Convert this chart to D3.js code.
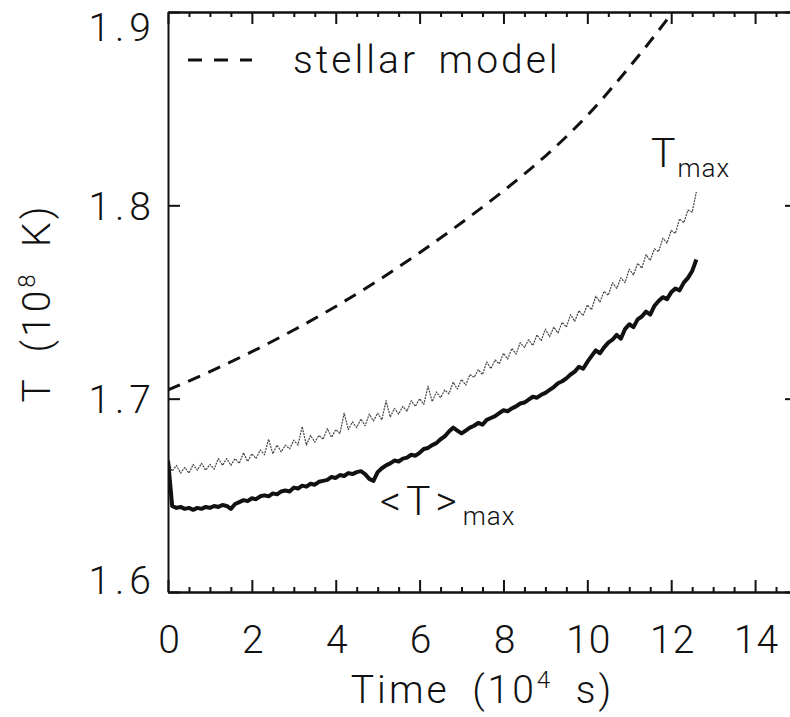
<!DOCTYPE html>
<html>
<head>
<meta charset="utf-8">
<script src="https://cdn.jsdelivr.net/npm/d3@7"></script>
<style>
  body { margin: 0; background: #fff; }
  svg { display: block; }
  text { font-family: Roboto, "Open Sans", "DejaVu Sans", sans-serif; font-weight: 300; fill: #111; }
</style>
</head>
<body>
<div id="chart"></div>
<script>
// time axis major / minor ticks (10^4 s) and temperature ticks (10^8 K)
const xMajorTicks = [0, 2, 4, 6, 8, 10, 12, 14]
const xMinorTicks = [0.5, 1, 1.5, 2.5, 3, 3.5, 4.5, 5, 5.5, 6.5, 7, 7.5, 8.5, 9, 9.5, 10.5, 11, 11.5, 12.5, 13, 13.5, 14.5]
const yTicks = [1.6, 1.7, 1.8, 1.9]

// stellar model (dashed)
const modelTime = [0, 1, 2, 3, 4, 5, 6, 7, 8, 9, 10, 11, 12, 12.4]
const modelT = [1.7045, 1.714, 1.7243, 1.7355, 1.7477, 1.761, 1.7755, 1.791, 1.8075, 1.8255, 1.8465, 1.8715, 1.899, 1.911]

// sampled every 0.1 (10^4 s), from t = 0 to 12.6
const sampleStep = 0.1
const tMax = [
  1.668, 1.6625, 1.6655, 1.6615, 1.6645, 1.6615, 1.666, 1.663, 1.6665, 1.663,
  1.666, 1.6635, 1.669, 1.6655, 1.669, 1.6655, 1.669, 1.6665, 1.672, 1.6675,
  1.6715, 1.669, 1.6735, 1.671, 1.679, 1.6715, 1.676, 1.6725, 1.676, 1.674,
  1.6785, 1.676, 1.6855, 1.676, 1.681, 1.6775, 1.681, 1.679, 1.6845, 1.680,
  1.684, 1.682, 1.6925, 1.684, 1.688, 1.685, 1.6895, 1.686, 1.692, 1.6885,
  1.6925, 1.689, 1.699, 1.6905, 1.695, 1.692, 1.696, 1.6935, 1.699, 1.696,
  1.700, 1.697, 1.7065, 1.6985, 1.7035, 1.7005, 1.7045, 1.7025, 1.7085, 1.705,
  1.710, 1.707, 1.7125, 1.711, 1.715, 1.7125, 1.719, 1.7155, 1.720, 1.718,
  1.7235, 1.7205, 1.726, 1.723, 1.729, 1.7265, 1.7305, 1.7275, 1.733, 1.730,
  1.736, 1.732, 1.737, 1.734, 1.7395, 1.737, 1.7435, 1.740, 1.7455, 1.743,
  1.7485, 1.746, 1.753, 1.750, 1.7555, 1.7535, 1.760, 1.757, 1.7625, 1.760,
  1.767, 1.764, 1.770, 1.7675, 1.7745, 1.7715, 1.7775, 1.776, 1.783, 1.7805,
  1.787, 1.7855, 1.793, 1.791, 1.7975, 1.7965, 1.807
]
const tMean = [
  1.668, 1.6445, 1.6435, 1.644, 1.643, 1.6435, 1.6425, 1.6435, 1.643, 1.644,
  1.6435, 1.6445, 1.644, 1.645, 1.6445, 1.643, 1.6455, 1.6465, 1.6475, 1.647,
  1.6485, 1.648, 1.6495, 1.650, 1.6495, 1.651, 1.6505, 1.652, 1.6525, 1.652,
  1.654, 1.6535, 1.655, 1.6545, 1.656, 1.6555, 1.657, 1.6575, 1.658, 1.6595,
  1.659, 1.6605, 1.660, 1.6615, 1.661, 1.662, 1.6625, 1.661, 1.6585, 1.6575,
  1.662, 1.664, 1.6655, 1.6665, 1.668, 1.6675, 1.669, 1.6695, 1.671, 1.6705,
  1.672, 1.674, 1.6745, 1.676, 1.677, 1.679, 1.6805, 1.683, 1.685, 1.6835,
  1.682, 1.6835, 1.685, 1.686, 1.6875, 1.6865, 1.689, 1.690, 1.691, 1.6925,
  1.694, 1.6935, 1.695, 1.696, 1.6975, 1.698, 1.6995, 1.701, 1.7005, 1.702,
  1.703, 1.7045, 1.706, 1.708, 1.709, 1.7105, 1.7125, 1.714, 1.7165, 1.7155,
  1.719, 1.722, 1.725, 1.7235, 1.7265, 1.729, 1.7305, 1.733, 1.731, 1.736,
  1.7385, 1.737, 1.741, 1.7425, 1.745, 1.7435, 1.748, 1.7505, 1.7525, 1.7515,
  1.755, 1.757, 1.756, 1.760, 1.7625, 1.766, 1.772
]

const width = 790
const height = 717
const margin = {top: 12, right: -7, bottom: 125, left: 168}
const fontSize = 39

const svg = d3.select("#chart").append("svg")
  .attr("width", width)
  .attr("height", height)

const x = d3.scaleLinear()
  .domain([0, 15])
  .range([margin.left, width - margin.right])

const y = d3.scaleLinear()
  .domain([1.6, 1.9])
  .range([height - margin.bottom, margin.top])

svg.append("defs").append("clipPath").attr("id", "plot-clip")
  .append("rect")
  .attr("x", x(0)).attr("y", y(1.9))
  .attr("width", x(15) - x(0)).attr("height", y(1.6) - y(1.9))

const styleAxis = g => g
  .call(g => g.select(".domain").attr("stroke", "#111").attr("stroke-width", 2))
  .call(g => g.selectAll(".tick line").attr("stroke", "#111").attr("stroke-width", 2))
  .call(g => g.selectAll("text").attr("font-family", null).attr("font-size", fontSize).attr("fill", "#111"))
  .attr("font-family", null)

// bottom axis
svg.append("g")
  .attr("transform", `translate(0, ${y(1.6)})`)
  .call(d3.axisBottom(x).tickValues(xMinorTicks).tickSize(-5).tickSizeOuter(0).tickFormat(""))
  .call(styleAxis)
svg.append("g")
  .attr("transform", `translate(0, ${y(1.6)})`)
  .call(d3.axisBottom(x).tickValues(xMajorTicks).tickSize(-12).tickSizeOuter(0).tickPadding(33).tickFormat(d3.format("d")))
  .call(styleAxis)
  .call(g => g.selectAll(".tick text").attr("letter-spacing", 1).attr("dx", 1))

// top axis
svg.append("g")
  .attr("transform", `translate(0, ${y(1.9)})`)
  .call(d3.axisTop(x).tickValues(xMinorTicks).tickSize(-5).tickSizeOuter(0).tickFormat(""))
  .call(styleAxis)
svg.append("g")
  .attr("transform", `translate(0, ${y(1.9)})`)
  .call(d3.axisTop(x).tickValues(xMajorTicks).tickSize(-12).tickSizeOuter(0).tickFormat(""))
  .call(styleAxis)

// left axis
svg.append("g")
  .attr("transform", `translate(${x(0)}, 0)`)
  .call(d3.axisLeft(y).tickValues(yTicks).tickSize(-12).tickSizeOuter(0).tickPadding(12).tickFormat(d3.format(".1f")))
  .call(styleAxis)
  .call(g => g.selectAll(".tick text")
    .attr("letter-spacing", 5)
    .attr("dy", d => d === 1.6 ? "0.05em" : d === 1.9 ? "0.72em" : "0.36em"))

// right axis (mostly off the page)
svg.append("g")
  .attr("transform", `translate(${x(15)}, 0)`)
  .call(d3.axisRight(y).tickValues(yTicks).tickSize(-12).tickSizeOuter(0).tickFormat(""))
  .call(styleAxis)

// axis titles
svg.append("text")
  .attr("x", (x(0) + x(15)) / 2)
  .attr("y", 703)
  .attr("text-anchor", "middle")
  .attr("font-size", fontSize)
  .attr("letter-spacing", 3)
  .attr("word-spacing", 10)
  .call(t => t.append("tspan").text("Time (10"))
  .call(t => t.append("tspan").attr("font-size", 24).attr("dy", -15).text("4"))
  .call(t => t.append("tspan").attr("dy", 15).text(" s)"))

svg.append("text")
  .attr("transform", `translate(50, 303) rotate(-90)`)
  .attr("text-anchor", "middle")
  .attr("font-size", fontSize)
  .attr("letter-spacing", 3)
  .attr("word-spacing", 12)
  .call(t => t.append("tspan").text("T (10"))
  .call(t => t.append("tspan").attr("font-size", 24).attr("dy", -15).text("8"))
  .call(t => t.append("tspan").attr("dy", 15).text(" K)"))

// curves
const plot = svg.append("g").attr("clip-path", "url(#plot-clip)")

const line = d3.line()
  .x(d => x(d.t))
  .y(d => y(d.v))

const modelData = modelTime.map((t, i) => ({t, v: modelT[i]}))
const tMaxData = tMax.map((v, i) => ({t: i * sampleStep, v}))
const tMeanData = tMean.map((v, i) => ({t: i * sampleStep, v}))

plot.append("path")
  .datum(modelData)
  .attr("fill", "none")
  .attr("stroke", "#111")
  .attr("stroke-width", 3)
  .attr("stroke-dasharray", "13,9")
  .attr("d", line.curve(d3.curveMonotoneX))

plot.append("path")
  .datum(tMaxData)
  .attr("fill", "none")
  .attr("stroke", "#444")
  .attr("stroke-width", 1.2)
  .attr("stroke-dasharray", "2,1")
  .attr("stroke-linejoin", "round")
  .attr("d", line.curve(d3.curveLinear))

plot.append("path")
  .datum(tMeanData)
  .attr("fill", "none")
  .attr("stroke", "#111")
  .attr("stroke-width", 4)
  .attr("stroke-linejoin", "round")
  .attr("d", line.curve(d3.curveLinear))

// legend
svg.append("line")
  .attr("x1", 188).attr("x2", 252)
  .attr("y1", 60).attr("y2", 60)
  .attr("stroke", "#111")
  .attr("stroke-width", 3)
  .attr("stroke-dasharray", "14,12")

svg.append("text")
  .attr("x", 293)
  .attr("y", 73)
  .attr("font-size", fontSize)
  .attr("letter-spacing", 3)
  .attr("word-spacing", 8)
  .text("stellar model")

// curve labels
svg.append("text")
  .attr("x", 651)
  .attr("y", 167)
  .attr("font-size", 41)
  .call(t => t.append("tspan").text("T"))
  .call(t => t.append("tspan").attr("font-size", 26).attr("dx", 2).attr("dy", 10).attr("letter-spacing", 1).text("max"))

svg.append("text")
  .attr("x", 380)
  .attr("y", 515)
  .attr("font-size", 41)
  .call(t => t.append("tspan").attr("letter-spacing", 5).text("<T>"))
  .call(t => t.append("tspan").attr("font-size", 26).attr("dx", 1).attr("dy", 10).attr("letter-spacing", 1).text("max"))
</script>
</body>
</html>
